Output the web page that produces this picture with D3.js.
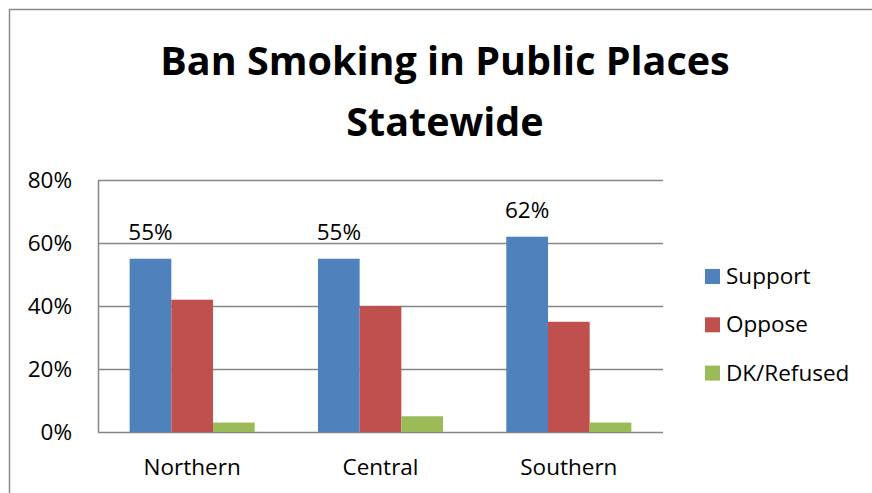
<!DOCTYPE html>
<html>
<head>
<meta charset="utf-8">
<script src="https://cdn.jsdelivr.net/npm/d3@7"></script>
<style>
    body { margin: 0; background: #fff; }
    svg { display: block; font-family: "Open Sans", sans-serif; }
</style>
</head>
<body>
<svg id="chart" width="872" height="493"></svg>
<script>
// chart data
var regions = ["Northern", "Central", "Southern"];
var seriesNames = ["Support", "Oppose", "DK/Refused"];
var support = [0.55, 0.55, 0.62];
var oppose = [0.42, 0.40, 0.35];
var dkRefused = [0.03, 0.05, 0.03];
var yTicks = [0, 0.2, 0.4, 0.6, 0.8];
var titleLines = ["Ban Smoking in Public Places", "Statewide"];

var colors = ["#4F81BD", "#C0504D", "#9BBB59"];
var seriesValues = [support, oppose, dkRefused];

var svg = d3.select("#chart");

var plot = { left: 98, right: 663, top: 180, bottom: 432 };

// outer chart frame (only top and left edges are visible)
svg.append("path")
    .attr("d", "M9.5,493 L9.5,9.5 L872,9.5")
    .attr("fill", "none")
    .attr("stroke", "#8a8a8a")
    .attr("stroke-width", 1.5);

// title
svg.append("text")
    .attr("x", 445)
    .attr("y", 75)
    .attr("text-anchor", "middle")
    .style("font-weight", "bold")
    .style("font-size", "39.5px")
    .selectAll("tspan")
    .data(titleLines)
    .enter().append("tspan")
    .attr("x", 445)
    .attr("dy", function(d, i) { return i === 0 ? 0 : 61; })
    .text(function(d) { return d; });

var x0 = d3.scaleBand()
    .domain(regions)
    .range([plot.left, plot.right])
    .paddingInner(0.336)
    .paddingOuter(0.168);

var x1 = d3.scaleBand()
    .domain(seriesNames)
    .range([0, x0.bandwidth()]);

var y = d3.scaleLinear()
    .domain([0, 0.8])
    .range([plot.bottom, plot.top]);

// gridlines
svg.append("g")
    .selectAll("line")
    .data(yTicks)
    .enter().append("line")
    .attr("x1", plot.left)
    .attr("x2", plot.right)
    .attr("y1", function(d) { return Math.round(y(d)) + 0.5; })
    .attr("y2", function(d) { return Math.round(y(d)) + 0.5; })
    .attr("stroke", "#868686")
    .attr("stroke-width", 1.5);

// y axis
var yAxis = d3.axisLeft(y)
    .tickValues(yTicks)
    .tickFormat(d3.format(".0%"))
    .tickSize(0)
    .tickPadding(26);

var yAxisG = svg.append("g")
    .attr("transform", "translate(" + plot.left + ",0)")
    .call(yAxis);
yAxisG.select(".domain").attr("stroke", "#868686").attr("stroke-width", 1.5);
yAxisG.selectAll("text")
    .style("font-family", "'Open Sans', sans-serif")
    .style("font-size", "22.5px")
    .attr("fill", "#000");

// x axis
var xAxis = d3.axisBottom(x0).tickSize(0).tickPadding(27);
var xAxisG = svg.append("g")
    .attr("transform", "translate(0," + plot.bottom + ")")
    .call(xAxis);
xAxisG.select(".domain").remove();
xAxisG.selectAll("text")
    .style("font-family", "'Open Sans', sans-serif")
    .style("font-size", "22.5px")
    .attr("fill", "#000");

// bars
var groups = svg.append("g")
    .selectAll("g")
    .data(regions)
    .enter().append("g")
    .attr("transform", function(d) { return "translate(" + x0(d) + ",0)"; });

groups.selectAll("rect")
    .data(function(d, i) {
        return seriesNames.map(function(s, j) {
            return { series: s, value: seriesValues[j][i], color: colors[j] };
        });
    })
    .enter().append("rect")
    .attr("x", function(d) { return x1(d.series); })
    .attr("width", x1.bandwidth())
    .attr("y", function(d) { return y(d.value); })
    .attr("height", function(d) { return plot.bottom - y(d.value); })
    .attr("fill", function(d) { return d.color; });

// value labels on Support bars
groups.append("text")
    .attr("x", x1("Support") + x1.bandwidth() / 2)
    .attr("y", function(d, i) { return y(support[i]) - 19; })
    .attr("text-anchor", "middle")
    .style("font-size", "22.5px")
    .text(function(d, i) { return d3.format(".0%")(support[i]); });

// legend
var legend = svg.append("g")
    .attr("transform", "translate(705,269)")
    .selectAll("g")
    .data(seriesNames)
    .enter().append("g")
    .attr("transform", function(d, i) { return "translate(0," + (i * 48.3) + ")"; });

legend.append("rect")
    .attr("width", 15)
    .attr("height", 15)
    .attr("fill", function(d, i) { return colors[i]; });

legend.append("text")
    .attr("x", 21)
    .attr("y", 15)
    .style("font-size", "22.5px")
    .text(function(d) { return d; });
</script>
</body>
</html>
